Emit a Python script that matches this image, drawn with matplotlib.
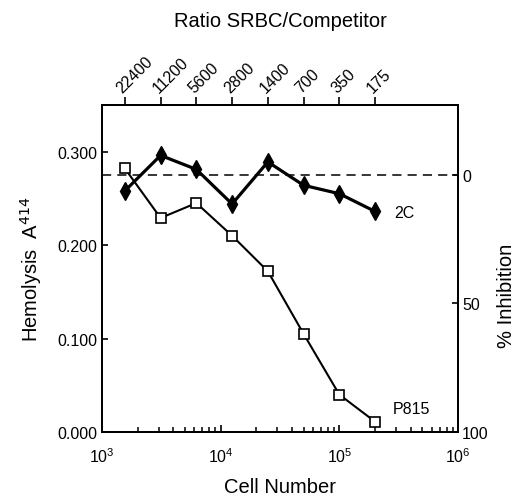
import matplotlib
matplotlib.use("Agg")
import matplotlib.pyplot as plt
import numpy as np
from matplotlib.ticker import FixedLocator, NullFormatter, LogLocator

plt.rcParams['font.family'] = ['Liberation Sans', 'DejaVu Sans']

ratios = [22400, 11200, 5600, 2800, 1400, 700, 350, 175]
ratio_labels = ['22400', '11200', '5600', '2800', '1400', '700', '350', '175']
cell_numbers = [1.5625e3, 3.125e3, 6.25e3, 1.25e4, 2.5e4, 5e4, 1e5, 2e5]
hemolysis_2c = [0.258, 0.296, 0.281, 0.244, 0.289, 0.264, 0.255, 0.236]
hemolysis_p815 = [0.282, 0.229, 0.245, 0.210, 0.172, 0.105, 0.040, 0.011]
baseline = 0.275
left_ticks = [0.0, 0.1, 0.2, 0.3]
left_labels = ['0.000', '0.100', '0.200', '0.300']
right_ticks = [0, 50, 100]

TICK_FS = 11.5
LABEL_FS = 14.5

fig = plt.figure(figsize=(5.17, 5.02), dpi=100)
ax = fig.add_axes([0.197, 0.1375, 0.689, 0.6515])

ax.plot(cell_numbers, hemolysis_2c, color='black', lw=2.3, marker='d',
        ms=9, mfc='black', mec='black', zorder=3)
ax.plot(cell_numbers, hemolysis_p815, color='black', lw=1.5, marker='s',
        ms=6.5, mfc='white', mec='black', mew=1.2, zorder=3)
ax.axhline(baseline, color='black', lw=1.1, ls=(0, (6, 4)), zorder=2)

ax.set_xscale('log')
ax.set_xlim(1e3, 1e6)
ax.set_ylim(0, 0.35)

ax.set_yticks(left_ticks)
ax.set_yticklabels(left_labels)
ax.tick_params(axis='y', which='major', direction='in', length=4, width=1.2, labelsize=TICK_FS, pad=3)
ax.tick_params(axis='x', which='major', direction='in', length=5, width=1.2, labelsize=TICK_FS, pad=10)
ax.tick_params(axis='x', which='minor', direction='in', length=3.5, width=1.1)
ax.xaxis.set_minor_locator(LogLocator(base=10, subs=np.arange(2, 10)))
ax.xaxis.set_minor_formatter(NullFormatter())

for s in ax.spines.values():
    s.set_linewidth(1.4)

ax.set_xlabel('Cell Number', fontsize=LABEL_FS, labelpad=9)
ax.set_ylabel('Hemolysis  A$^{414}$', fontsize=LABEL_FS, labelpad=10)

ax.text(cell_numbers[-1] * 1.45, hemolysis_2c[-1] - 0.001, '2C', fontsize=TICK_FS, va='center', ha='left')
ax.text(cell_numbers[-1] * 1.4, hemolysis_p815[-1] + 0.014, 'P815', fontsize=TICK_FS, va='center', ha='left')

# right axis: % inhibition = 100*(1 - y/baseline)
axr = ax.twinx()
axr.set_ylim(100 * (1 - 0.0 / baseline), 100 * (1 - 0.35 / baseline))
axr.set_yticks(right_ticks)
axr.set_yticklabels([str(t) for t in right_ticks])
axr.tick_params(axis='y', direction='in', length=4, width=1.2, labelsize=TICK_FS, pad=3)
axr.set_ylabel('% Inhibition', fontsize=LABEL_FS)
axr.yaxis.set_label_coords(1.11, 0.42)

# top axis: ratio
axt = ax.twiny()
axt.set_xscale('log')
axt.set_xlim(1e3, 1e6)
axt.xaxis.set_major_locator(FixedLocator(cell_numbers))
axt.xaxis.set_minor_locator(FixedLocator([]))
axt.set_xticklabels(ratio_labels, rotation=45, ha='left', va='bottom', rotation_mode='anchor')
axt.tick_params(axis='x', direction='out', length=6, width=1.2, labelsize=TICK_FS, pad=1)
axt.set_xlabel('Ratio SRBC/Competitor', fontsize=LABEL_FS, labelpad=20)
for a in (axr, axt):
    for s in a.spines.values():
        s.set_linewidth(1.4)

fig.savefig('out.png', dpi=100)
